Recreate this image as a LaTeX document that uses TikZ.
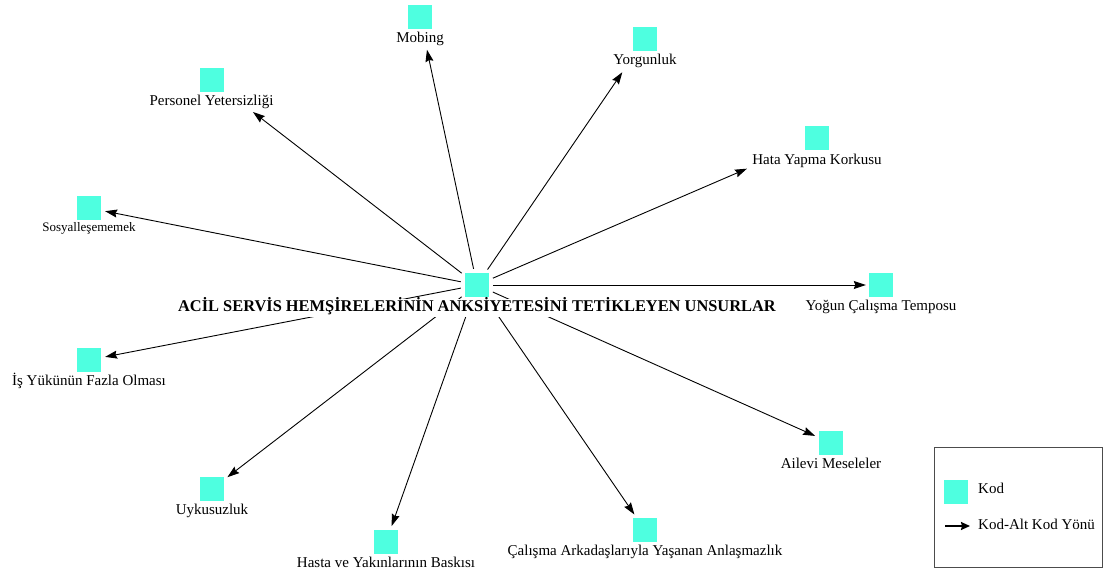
\documentclass[tikz,border=0pt]{standalone}
\usepackage{fontspec}
\setmainfont{Liberation Serif}
\usetikzlibrary{positioning,arrows.meta,backgrounds}
\definecolor{kodrenk}{RGB}{78,255,224}

\begin{document}
\begin{tikzpicture}[x=1pt,y=-1pt,
        kod/.style={fill=kodrenk,minimum size=24pt,inner sep=0pt},
        yazi/.style={inner sep=0pt,text height=10.5pt,text depth=3.5pt,font=\fontsize{15}{18}\selectfont},
        ok/.style={line width=0.9pt,shorten <=4pt,shorten >=4pt,-{Stealth[length=12pt,width=8pt,inset=1.5pt]}}]
            \useasboundingbox (0,0) rectangle (1103,572);
            %kodlar
            \node[kod] (merkez) at (477,285) {};
            \node[kod] (mobing) at (420,17) {};
            \node[kod] (yorgun) at (645,39) {};
            \node[kod] (personel) at (211.5,80) {};
            \node[kod] (hata) at (817,138.5) {};
            \node[kod] (sosyal) at (89,208) {};
            \node[kod] (tempo) at (881,285) {};
            \node[kod] (isyuku) at (89,360) {};
            \node[kod] (ailevi) at (831,443) {};
            \node[kod] (uyku) at (212,489) {};
            \node[kod] (hasta) at (386,542) {};
            \node[kod] (calisma) at (645,530) {};
            %etiketler
            \node[font=\bfseries\fontsize{16.4}{19}\selectfont,fill=white,inner sep=2pt,text height=11pt,text depth=3pt,below=1.5pt of merkez] (baslik) {ACİL SERVİS HEMŞİRELERİNİN ANKSİYETESİNİ TETİKLEYEN UNSURLAR};
            \node[yazi,below=3pt of mobing] (mobingy) {Mobing};
            \node[yazi,below=3pt of yorgun] (yorguny) {Yorgunluk};
            \node[yazi,below=3pt of personel] (personely) {Personel Yetersizliği};
            \node[yazi,below=3pt of hata] (hatay) {Hata Yapma Korkusu};
            \node[yazi,font=\fontsize{13}{16}\selectfont,text height=9pt,below=2pt of sosyal] (sosyaly) {Sosyalleşememek};
            \node[yazi,below=3pt of tempo] (tempoy) {Yoğun Çalışma Temposu};
            \node[yazi,below=3pt of isyuku] (isyukuy) {İş Yükünün Fazla Olması};
            \node[yazi,below=3pt of ailevi] (aileviy) {Ailevi Meseleler};
            \node[yazi,below=3pt of uyku] (uykuy) {Uykusuzluk};
            \node[yazi,below=3pt of hasta] (hastay) {Hasta ve Yakınlarının Baskısı};
            \node[yazi,below=3pt of calisma] (calismay) {Çalışma Arkadaşlarıyla Yaşanan Anlaşmazlık};
            %oklar
            \begin{scope}[on background layer]
            \draw[ok,shorten >=21pt] (merkez) -- (mobing);
            \draw[ok,shorten >=25.5pt] (merkez) -- (yorgun);
            \draw[ok,shorten >=37pt] (merkez) -- (personel);
            \draw[ok,shorten >=63pt] (merkez) -- (hata);
            \draw[ok] (merkez) -- (sosyal);
            \draw[ok,shorten >=3pt] (merkez) -- (tempo);
            \draw[ok] (merkez) -- (isyuku);
            \draw[ok] (merkez) -- (ailevi);
            \draw[ok] (merkez) -- (uyku);
            \draw[ok] (merkez) -- (hasta);
            \draw[ok] (merkez) -- (calisma);
            \end{scope}
            %lejant
            \draw[black!70,line width=0.8pt] (934,447) rectangle (1102,567);
            \node[kod] (lkod) at (955.5,491.5) {};
            \node[yazi,anchor=west] (lkody) at (978,490) {Kod};
            \coordinate (lokbas) at (945,526);
            \coordinate (lokuc) at (970,526);
            \draw[line width=1.8pt,-{Stealth[length=9pt,width=8pt,inset=1pt]}] (lokbas) -- (lokuc);
            \node[yazi,anchor=west] (lokyazi) at (978,526) {Kod-Alt Kod Yönü};
\end{tikzpicture}
\end{document}
